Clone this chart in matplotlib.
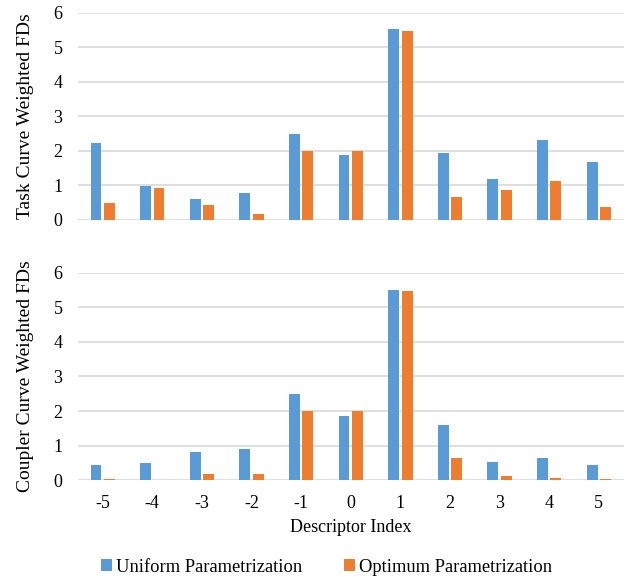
import matplotlib.pyplot as plt
import numpy as np

plt.rcParams['font.family'] = ['Liberation Serif', 'DejaVu Serif']

idx = [-5, -4, -3, -2, -1, 0, 1, 2, 3, 4, 5]
task_uniform = [2.23, 0.99, 0.61, 0.79, 2.49, 1.88, 5.53, 1.95, 1.19, 2.31, 1.67]
task_optimum = [0.48, 0.91, 0.42, 0.18, 2.00, 2.00, 5.48, 0.65, 0.86, 1.12, 0.36]
coupler_uniform = [0.43, 0.50, 0.82, 0.91, 2.48, 1.87, 5.51, 1.60, 0.53, 0.63, 0.45]
coupler_optimum = [0.02, 0.0, 0.18, 0.17, 2.00, 2.00, 5.47, 0.65, 0.12, 0.06, 0.03]

blue = '#5B9BD5'
orange = '#ED7D31'

fig = plt.figure(figsize=(6.28, 5.77), dpi=100)
ax1 = fig.add_axes([0.124, 0.619, 0.869, 0.359])
ax2 = fig.add_axes([0.124, 0.168, 0.869, 0.359])

x = np.arange(len(idx))
w = 0.22
off = 0.135

for ax, u, o, lab in [(ax1, task_uniform, task_optimum, 'Task Curve Weighted FDs'),
                      (ax2, coupler_uniform, coupler_optimum, 'Coupler Curve Weighted FDs')]:
    ax.bar(x - off, u, w, color=blue, label='Uniform Parametrization', zorder=3)
    ax.bar(x + off, o, w, color=orange, label='Optimum Parametrization', zorder=3)
    ax.set_ylim(0, 6)
    ax.set_xlim(-0.5, len(idx) - 0.5)
    ax.set_yticks(range(7))
    ax.grid(axis='y', color='#D9D9D9', linewidth=1.2, zorder=0)
    for s in ax.spines.values():
        s.set_visible(False)
    ax.tick_params(length=0, labelsize=13, pad=11)
    ax.set_ylabel(lab, fontsize=14, labelpad=14)

ax1.set_xticks([])
ax2.set_xticks(x)
ax2.set_xticklabels([str(i) for i in idx])
ax2.tick_params(axis='x', pad=11)
ax2.set_xlabel('Descriptor Index', fontsize=13, labelpad=5)

handles, labels = ax2.get_legend_handles_labels()
fig.legend(handles, labels, loc='center', bbox_to_anchor=(0.52, 0.017), ncol=2,
           frameon=False, fontsize=13.3, handlelength=0.6, handleheight=0.6,
           handletextpad=0.2, columnspacing=2.3)

fig.savefig('out.png', dpi=100)
